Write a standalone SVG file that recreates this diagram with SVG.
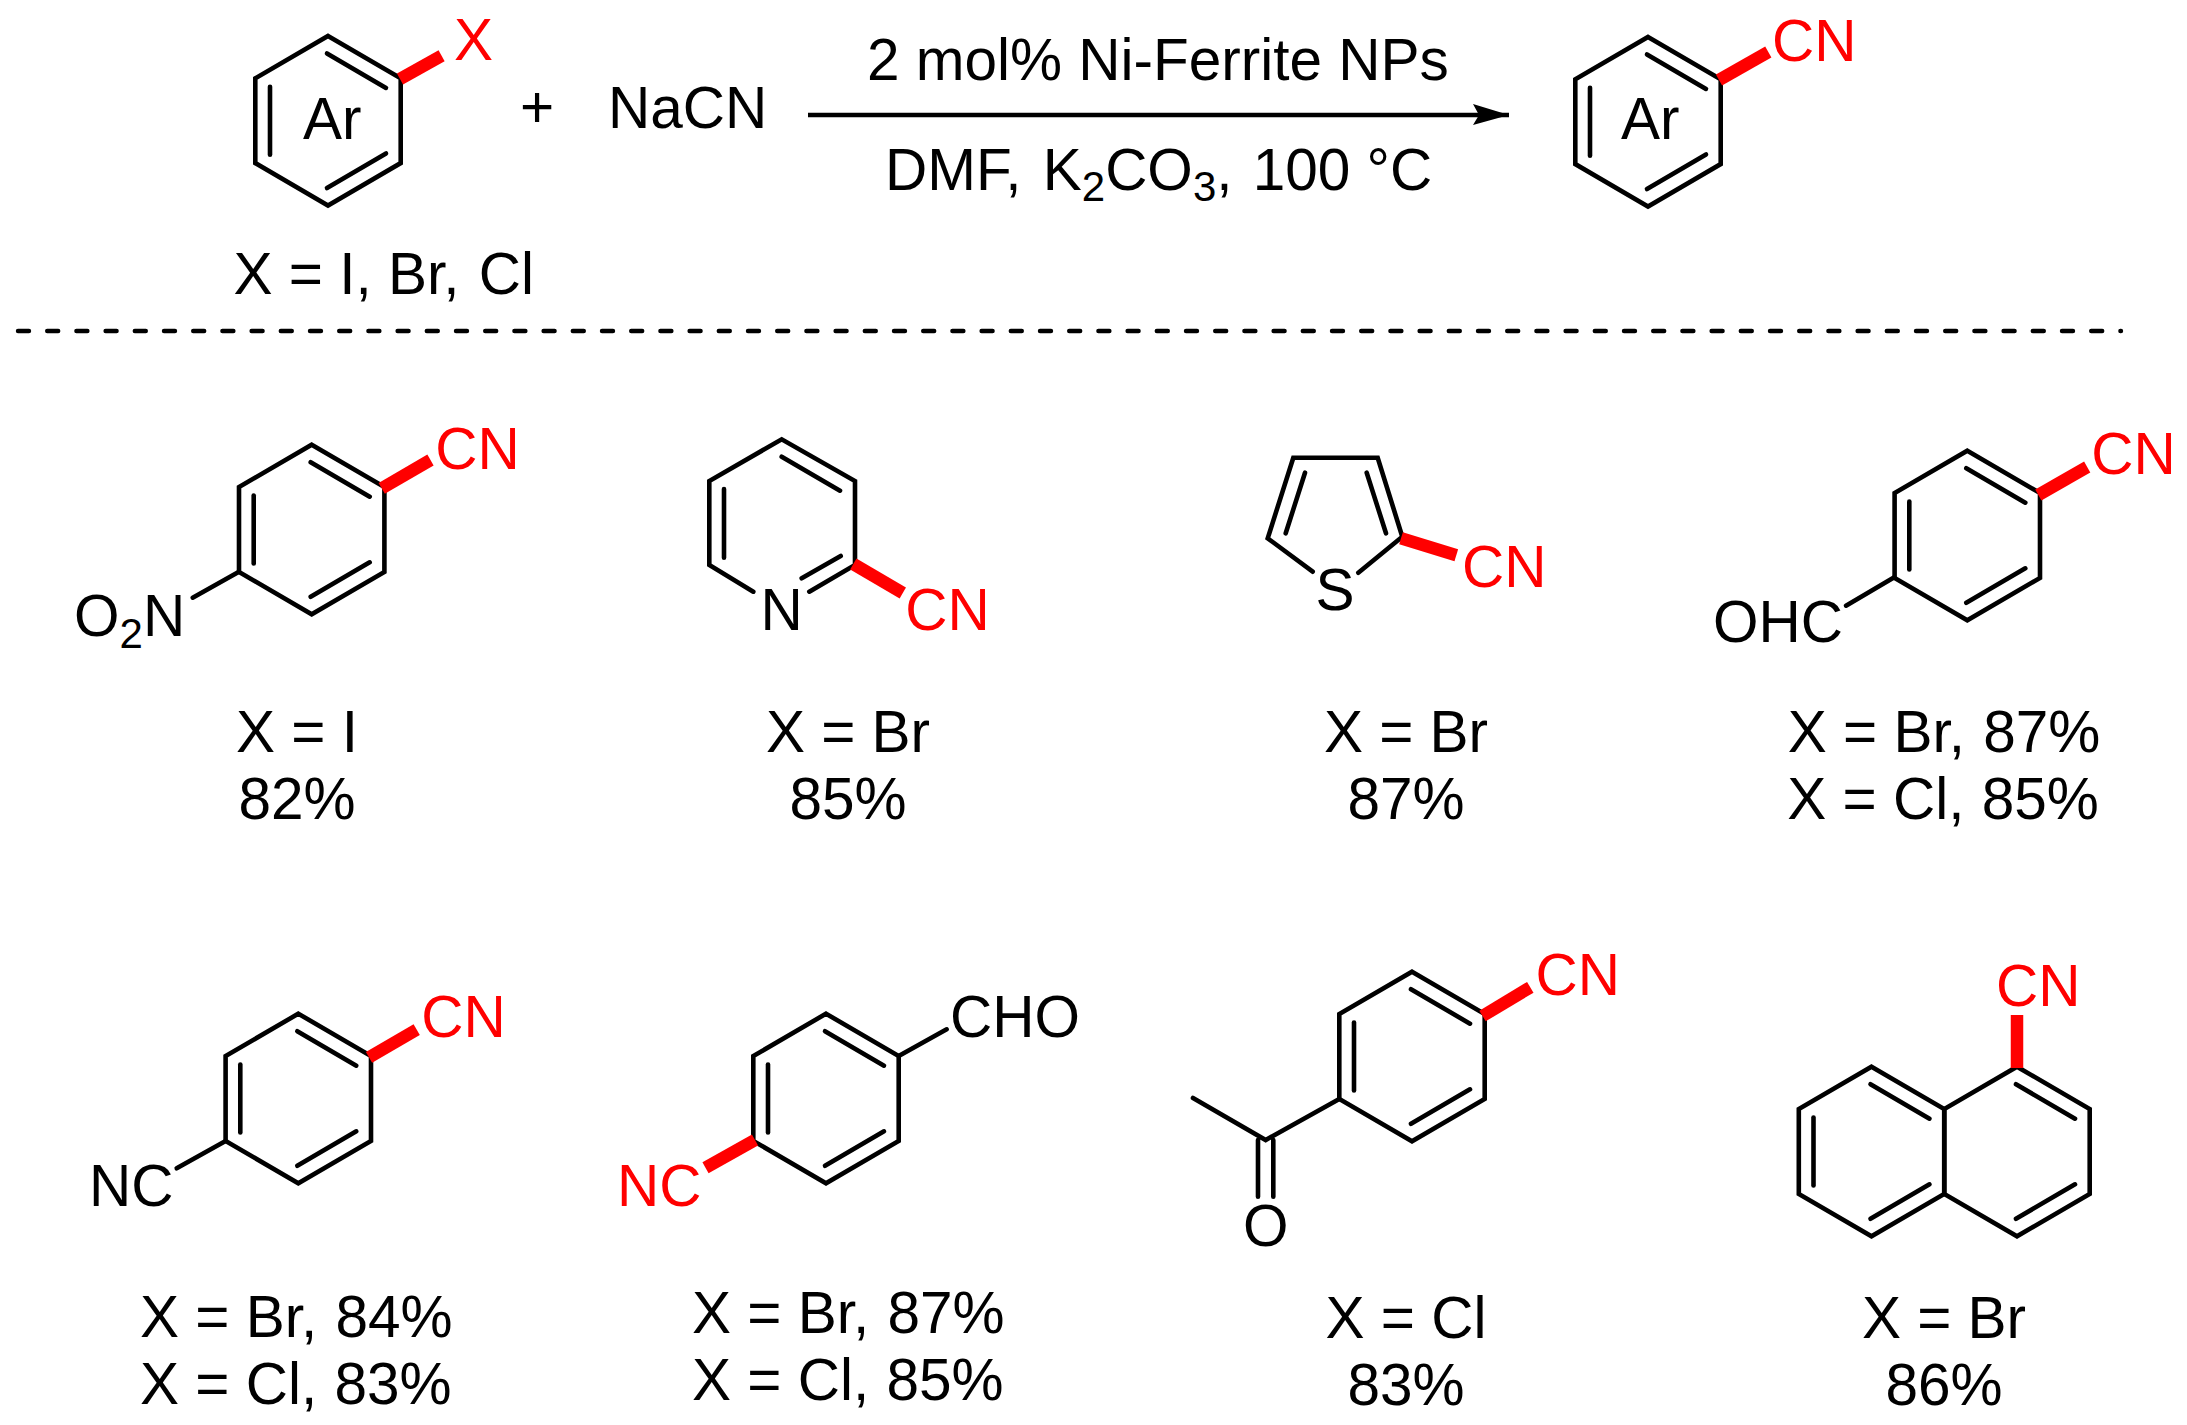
<svg xmlns="http://www.w3.org/2000/svg" xmlns:xlink="http://www.w3.org/1999/xlink" width="2187" height="1425" viewBox="0 0 2187 1425">
<style>
text{font-family:"Liberation Sans",Arial,sans-serif;font-size:58.5px;fill:#000}
.r{fill:#f00}
.m{text-anchor:middle}
.s{font-size:42px}
.b{fill:none;stroke:#000;stroke-width:4.6;stroke-linejoin:miter;stroke-linecap:round}
.rb{stroke:#f00;stroke-width:12.5;stroke-linecap:butt;fill:none}
</style>
<defs>
<g id="hex" class="b"><path d="M0,-84.8L72.7,-42.4V42.4L0,84.8L-72.7,42.4V-42.4Z"/><path d="M-1,-67.3L58,-32.8M58,32.8L-1,67.3"/></g>
<path id="inL" class="b" d="M-58,-34V34"/>
<marker id="ah" markerUnits="userSpaceOnUse" markerWidth="38" markerHeight="22" refX="36" refY="11" orient="auto"><path d="M0,0L36,11L0,21L6,11Z" fill="#000"/></marker>
</defs>
<rect width="2187" height="1425" fill="#fff"/>

<g id="connectors">
<line id="reaction-arrow" x1="808" y1="115" x2="1509" y2="115" stroke="#000" stroke-width="4.4" marker-end="url(#ah)"/>
<line id="divider" x1="18" y1="331" x2="2121" y2="331" stroke="#000" stroke-width="4.4" stroke-linecap="round" stroke-dasharray="11 18.2"/>
</g>

<g id="reactant">
<use href="#hex" x="328" y="120.7"/><use href="#inL" x="328" y="120.7"/>
<line class="rb" x1="400" y1="79" x2="441.6" y2="55.8"/>
<text class="r" x="454" y="59.5">X</text>
<text x="303" y="138.5">Ar</text>
<text x="233.5" y="294.3">X = I, Br,<tspan dx="3"> Cl</tspan></text>
</g>
<g id="plus"><text class="m" x="537" y="127">+</text></g>
<g id="nacn"><text x="608" y="128.3">NaCN</text></g>
<g id="conditions">
<text x="867" y="80.3">2 mol% Ni-Ferrite NPs</text>
<text x="885" y="190">DMF,<tspan dx="5"> K</tspan><tspan class="s" dy="11">2</tspan><tspan dy="-11">CO</tspan><tspan class="s" dy="11">3</tspan><tspan dy="-11">,</tspan><tspan dx="4"> 100 °C</tspan></text>
</g>
<g id="product">
<use href="#hex" x="1648" y="121.7"/><use href="#inL" x="1648" y="121.7"/>
<line class="rb" x1="1719" y1="80" x2="1768.3" y2="52"/>
<text class="r" x="1772" y="60.7">CN</text>
<text x="1621" y="139.3">Ar</text>
</g>

<g id="cmpd-nitro">
<use href="#hex" x="311.7" y="529.5"/><use href="#inL" x="311.7" y="529.5"/>
<line class="rb" x1="381.7" y1="488.3" x2="430.5" y2="460"/>
<text class="r" x="435.3" y="468.7">CN</text>
<path class="b" d="M239,571.7L192.7,597.7"/>
<text x="74" y="636">O<tspan class="s" dy="12">2</tspan><tspan dy="-12">N</tspan></text>
<text class="m" x="297" y="751.5">X = I</text>
<text class="m" x="297" y="818.5">82%</text>
</g>

<g id="cmpd-pyridine">
<path class="b" d="M753.3,591.7L709.3,565V481L781.7,439.3L855,481V565L809.3,591.7"/>
<path class="b" d="M724,489V557.7M781.7,456.7L840,490.7M840.7,556L801.7,578.3"/>
<line class="rb" x1="853.3" y1="564" x2="902.8" y2="593"/>
<text class="r" x="905.3" y="630">CN</text>
<text class="m" x="781.7" y="630">N</text>
<text class="m" x="848" y="751.5">X = Br</text>
<text class="m" x="848" y="818.5">85%</text>
</g>

<g id="cmpd-thiophene">
<path class="b" d="M1312.7,571.7L1267.7,538.3L1293.3,457.7H1377.7L1402.3,536.7L1358.3,572.7"/>
<path class="b" d="M1305,472.7L1285.7,533.3M1366.7,472.7L1386,533.3"/>
<line class="rb" x1="1401" y1="538.3" x2="1456.3" y2="555.2"/>
<text class="r" x="1462" y="587.3">CN</text>
<text class="m" x="1335" y="609.5">S</text>
<text class="m" x="1406" y="751.5">X = Br</text>
<text class="m" x="1406" y="818.5">87%</text>
</g>

<g id="cmpd-ohc">
<use href="#hex" x="1967.3" y="535.5"/><use href="#inL" x="1967.3" y="535.5"/>
<line class="rb" x1="2038.3" y1="495" x2="2087.2" y2="467"/>
<text class="r" x="2091.3" y="474.3">CN</text>
<path class="b" d="M1894.3,577.3L1846,605.7"/>
<text x="1713" y="642.3">OHC</text>
<text class="m" x="1944" y="751.5">X = Br,<tspan dx="2"> 87%</tspan></text>
<text class="m" x="1943" y="818.5">X = Cl,<tspan dx="1"> 85%</tspan></text>
</g>

<g id="cmpd-nc">
<use href="#hex" x="298.3" y="1098.5"/><use href="#inL" x="298.3" y="1098.5"/>
<line class="rb" x1="369" y1="1057.3" x2="416.7" y2="1029.7"/>
<text class="r" x="421.3" y="1037.3">CN</text>
<path class="b" d="M225.6,1140.9L176.7,1168.3"/>
<text x="89" y="1205.7">NC</text>
<text x="140" y="1336.7">X = Br,<tspan dx="2"> 84%</tspan></text>
<text x="140" y="1404">X = Cl,<tspan dx="1"> 83%</tspan></text>
</g>

<g id="cmpd-cho">
<use href="#hex" x="826" y="1098.5"/><use href="#inL" x="826" y="1098.5"/>
<line class="rb" x1="755" y1="1140" x2="705.5" y2="1167.8"/>
<text class="r" x="617" y="1205.7">NC</text>
<path class="b" d="M898.7,1056.1L946.7,1029.3"/>
<text x="950" y="1037.3">CHO</text>
<text x="692" y="1333.3">X = Br,<tspan dx="2"> 87%</tspan></text>
<text x="692" y="1400">X = Cl,<tspan dx="1"> 85%</tspan></text>
</g>

<g id="cmpd-acetyl">
<use href="#hex" x="1412" y="1056.5"/><use href="#inL" x="1412" y="1056.5"/>
<line class="rb" x1="1482.5" y1="1016" x2="1530.3" y2="987.3"/>
<text class="r" x="1535.6" y="995.3">CN</text>
<path class="b" d="M1339.3,1098.9L1265.7,1140L1193,1098M1258,1140V1196.7M1273.3,1140V1196.7"/>
<text class="m" x="1265.7" y="1246">O</text>
<text class="m" x="1406" y="1337.5">X = Cl</text>
<text class="m" x="1406" y="1404.5">83%</text>
</g>

<g id="cmpd-naphthalene">
<use href="#hex" x="1871.5" y="1151.5"/><use href="#inL" x="1871.5" y="1151.5"/>
<use href="#hex" x="2017" y="1151.5"/>
<line class="rb" x1="2017" y1="1068" x2="2017" y2="1015"/>
<text class="r" x="1996" y="1005.7">CN</text>
<text class="m" x="1944" y="1337.5">X = Br</text>
<text class="m" x="1944" y="1404.5">86%</text>
</g>
</svg>
